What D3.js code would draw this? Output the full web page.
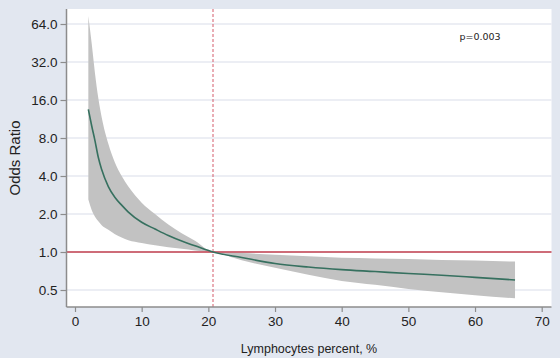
<!DOCTYPE html>
<html>
<head>
<meta charset="utf-8">
<script src="https://cdn.jsdelivr.net/npm/d3@7"></script>
<style>
  html, body { margin: 0; padding: 0; background: #e2e7f0; }
  svg { display: block; }
</style>
</head>
<body>
<div id="chart"></div>
<script>
// lymphocytes percent (x) and odds ratio with 95% CI
const lymph   = [2, 2.5, 3, 3.5, 4, 5, 6, 7, 8, 10, 12, 14, 16, 18, 20.7, 25, 30, 35, 40, 45, 50, 55, 60, 66];
const oddsR   = [13.5, 10, 7.6, 5.6, 4.5, 3.3, 2.7, 2.35, 2.07, 1.72, 1.52, 1.35, 1.22, 1.12, 1.0, 0.905, 0.81, 0.76, 0.725, 0.70, 0.675, 0.655, 0.63, 0.60];
const upperCI = [74, 45, 26, 16.5, 11.7, 7.2, 5.1, 4.0, 3.3, 2.46, 2.0, 1.65, 1.41, 1.23, 1.0, 0.98, 0.95, 0.925, 0.90, 0.89, 0.88, 0.865, 0.855, 0.84];
const lowerCI = [2.6, 2.15, 1.9, 1.75, 1.63, 1.5, 1.38, 1.3, 1.24, 1.18, 1.13, 1.09, 1.06, 1.03, 1.0, 0.86, 0.75, 0.66, 0.59, 0.55, 0.51, 0.48, 0.455, 0.43];

const xTicks = [0, 10, 20, 30, 40, 50, 60, 70];
const yTicks = [0.5, 1, 2, 4, 8, 16, 32, 64];
const refX = 20.7;   // knot / reference value
const refOR = 1;
const pText = "p=0.003";

const W = 560, H = 358;
const plot = { left: 66.5, right: 551.5, top: 9, bottom: 307 };

const svg = d3.select("#chart").append("svg")
    .attr("width", W)
    .attr("height", H);

svg.append("rect")
    .attr("width", W).attr("height", H)
    .attr("fill", "#e2e7f0");

// plot region
svg.append("rect")
    .attr("x", plot.left).attr("y", plot.top)
    .attr("width", plot.right - plot.left)
    .attr("height", plot.bottom - plot.top)
    .attr("fill", "#ffffff");

const x = d3.scaleLinear().domain([0, 70]).range([75, 541.7]);
const y = d3.scaleLog().base(2).domain([0.5, 64]).range([290, 24]);

const data = lymph.map((v, i) => ({ x: v, or: oddsR[i], lo: lowerCI[i], hi: upperCI[i] }));

// gridlines
svg.append("g")
    .selectAll("line")
    .data(yTicks)
    .enter()
    .append("line")
    .attr("x1", plot.left).attr("x2", plot.right)
    .attr("y1", d => y(d)).attr("y2", d => y(d))
    .attr("stroke", "#e6e8f0")
    .attr("stroke-width", 1.5);

// confidence band
const area = d3.area()
    .x(d => x(d.x))
    .y0(d => y(d.lo))
    .y1(d => y(d.hi))
    .curve(d3.curveMonotoneX);

svg.append("path")
    .datum(data)
    .attr("d", area)
    .attr("fill", "#c2c2c2");

// reference line OR = 1
svg.append("line")
    .attr("x1", plot.left).attr("x2", plot.right)
    .attr("y1", y(refOR)).attr("y2", y(refOR))
    .attr("stroke", "#c4404f")
    .attr("stroke-width", 1.5);

// vertical dashed line
svg.append("line")
    .attr("x1", x(refX)).attr("x2", x(refX))
    .attr("y1", plot.top).attr("y2", plot.bottom)
    .attr("stroke", "#d45a6a")
    .attr("stroke-width", 1)
    .attr("stroke-dasharray", "3,2");

// OR curve
const line = d3.line()
    .x(d => x(d.x))
    .y(d => y(d.or))
    .curve(d3.curveMonotoneX);

svg.append("path")
    .datum(data)
    .attr("d", line)
    .attr("fill", "none")
    .attr("stroke", "#36705f")
    .attr("stroke-width", 1.6);

// axes
const yAxis = svg.append("g")
    .attr("transform", `translate(${plot.left},0)`)
    .call(d3.axisLeft(y).tickValues(yTicks).tickFormat(d3.format(".1f")).tickSize(6).tickSizeOuter(0));
yAxis.select(".domain").attr("d", `M0,${plot.top}V${plot.bottom}`);

const xAxis = svg.append("g")
    .attr("transform", `translate(0,${plot.bottom})`)
    .call(d3.axisBottom(x).tickValues(xTicks).tickSize(5).tickSizeOuter(0));
xAxis.select(".domain").attr("d", `M${plot.left},0H${plot.right}`);

svg.selectAll(".domain").attr("stroke", "#8c8c8c").attr("stroke-width", 1.5);
svg.selectAll(".tick line").attr("stroke", "#8c8c8c").attr("stroke-width", 1.2);
svg.selectAll(".tick text")
    .attr("fill", "#222")
    .style("font-family", "'Liberation Sans', Arial, sans-serif")
    .style("font-size", "13.5px");
yAxis.selectAll(".tick text").attr("x", -9);
xAxis.selectAll(".tick text").attr("y", 9);

// axis titles
svg.append("text")
    .attr("x", (plot.left + plot.right) / 2)
    .attr("y", 353)
    .attr("text-anchor", "middle")
    .style("font-family", "'Liberation Sans', Arial, sans-serif")
    .style("font-size", "12.5px")
    .attr("fill", "#222")
    .text("Lymphocytes percent, %");

svg.append("text")
    .attr("transform", `translate(20,${(plot.top + plot.bottom) / 2}) rotate(-90)`)
    .attr("text-anchor", "middle")
    .style("font-family", "'Liberation Sans', Arial, sans-serif")
    .style("font-size", "15px")
    .attr("fill", "#222")
    .text("Odds Ratio");

// p value
svg.append("text")
    .attr("x", 480)
    .attr("y", 40)
    .attr("text-anchor", "middle")
    .style("font-family", "'DejaVu Sans', Verdana, sans-serif")
    .style("font-size", "9.5px")
    .attr("fill", "#222")
    .text(pText);
</script>
</body>
</html>
